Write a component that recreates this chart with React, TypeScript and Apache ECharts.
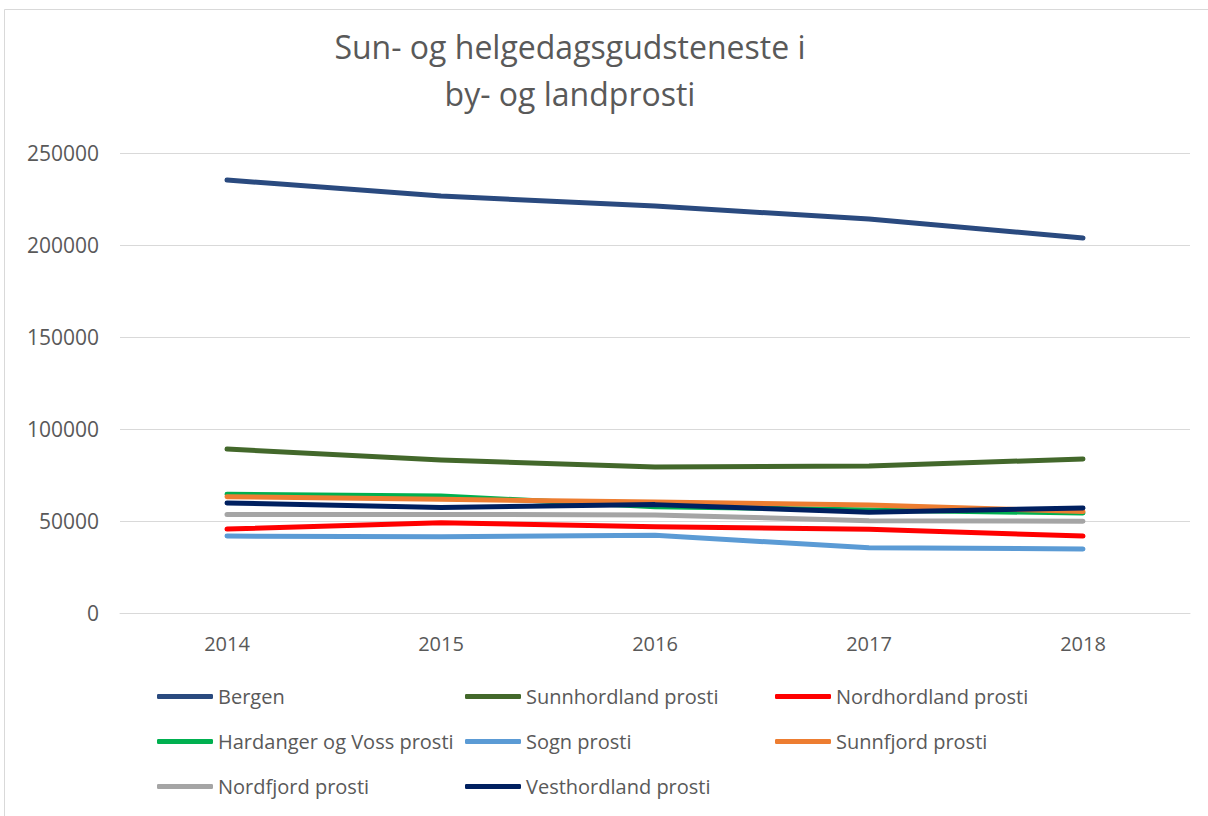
import React, { useEffect, useRef } from "react";
import * as echarts from "echarts";

const years = ["2014", "2015", "2016", "2017", "2018"];
const bergen = [235300, 226600, 221200, 214100, 203800];
const sunnhordland = [89100, 83200, 79300, 79900, 83700];
const nordhordland = [45600, 49100, 46900, 45500, 41800];
const hardanger = [64500, 63600, 57800, 56000, 54300];
const sogn = [41800, 41500, 42200, 35500, 34800];
const sunnfjord = [63200, 61800, 60300, 58700, 55100];
const nordfjord = [53600, 53600, 53300, 50200, 49900];
const vesthordland = [59800, 57400, 58900, 54700, 57100];

const seriesDefs = [
  { name: "Bergen", data: bergen, color: "#2A4A7F" },
  { name: "Sunnhordland prosti", data: sunnhordland, color: "#43682B" },
  { name: "Nordhordland prosti", data: nordhordland, color: "#FF0000" },
  { name: "Hardanger og Voss prosti", data: hardanger, color: "#00B050" },
  { name: "Sogn prosti", data: sogn, color: "#5B9BD5" },
  { name: "Sunnfjord prosti", data: sunnfjord, color: "#ED7D31" },
  { name: "Nordfjord prosti", data: nordfjord, color: "#A5A5A5" },
  { name: "Vesthordland prosti", data: vesthordland, color: "#002060" },
];

const FONT = "'Open Sans', 'Noto Sans', sans-serif";

export default function App() {
  const ref = useRef<HTMLDivElement>(null);
  useEffect(() => {
    const chart = echarts.init(ref.current!, null, { renderer: "svg" });
    const legendBase = {
      orient: "vertical" as const,
      top: 684,
      padding: 0,
      itemGap: 20,
      itemWidth: 56,
      itemHeight: 5,
      icon: "roundRect",
      textStyle: { fontFamily: FONT, fontSize: 20, color: "#595959", lineHeight: 25 },
    };
    chart.setOption({
      animation: false,
      backgroundColor: "#fff",
      title: {
        text: "Sun- og helgedagsgudsteneste i\nby- og landprosti",
        left: 565,
        textAlign: "center",
        top: 18,
        textStyle: {
          fontFamily: FONT,
          fontSize: 32,
          fontWeight: "normal",
          color: "#595959",
          lineHeight: 47,
        },
      },
      graphic: [
        {
          type: "rect",
          shape: { x: 4.5, y: 9.5, width: 1210, height: 820 },
          style: { fill: "none", stroke: "#d9d9d9", lineWidth: 1 },
          silent: true,
        },
      ],
      legend: [
        { ...legendBase, left: 157, data: ["Bergen", "Hardanger og Voss prosti", "Nordfjord prosti"] },
        { ...legendBase, left: 465, data: ["Sunnhordland prosti", "Sogn prosti", "Vesthordland prosti"] },
        { ...legendBase, left: 775, data: ["Nordhordland prosti", "Sunnfjord prosti"] },
      ],
      grid: { left: 120, right: 18, top: 153, bottom: 203 },
      xAxis: {
        type: "category",
        data: years,
        boundaryGap: true,
        axisLine: { show: true, lineStyle: { color: "#d9d9d9" } },
        axisTick: { show: false },
        axisLabel: { fontFamily: FONT, fontSize: 20, color: "#595959", margin: 20 },
      },
      yAxis: {
        type: "value",
        min: 0,
        max: 250000,
        interval: 50000,
        axisLine: { show: false },
        axisTick: { show: false },
        splitLine: { lineStyle: { color: "#d9d9d9", width: 1 } },
        axisLabel: {
          fontFamily: FONT,
          fontSize: 21,
          color: "#595959",
          margin: 21,
          formatter: (v: number) => String(v),
        },
      },
      series: seriesDefs.map((s) => ({
        name: s.name,
        type: "line",
        data: s.data,
        showSymbol: false,
        symbol: "none",
        color: s.color,
        lineStyle: { width: 5, color: s.color, cap: "round", join: "round" },
      })),
    });
    return () => chart.dispose();
  }, []);
  return (
    <div
      ref={ref}
      style={{ position: "fixed", left: 0, top: 0, width: 1208, height: 816 }}
    />
  );
}
